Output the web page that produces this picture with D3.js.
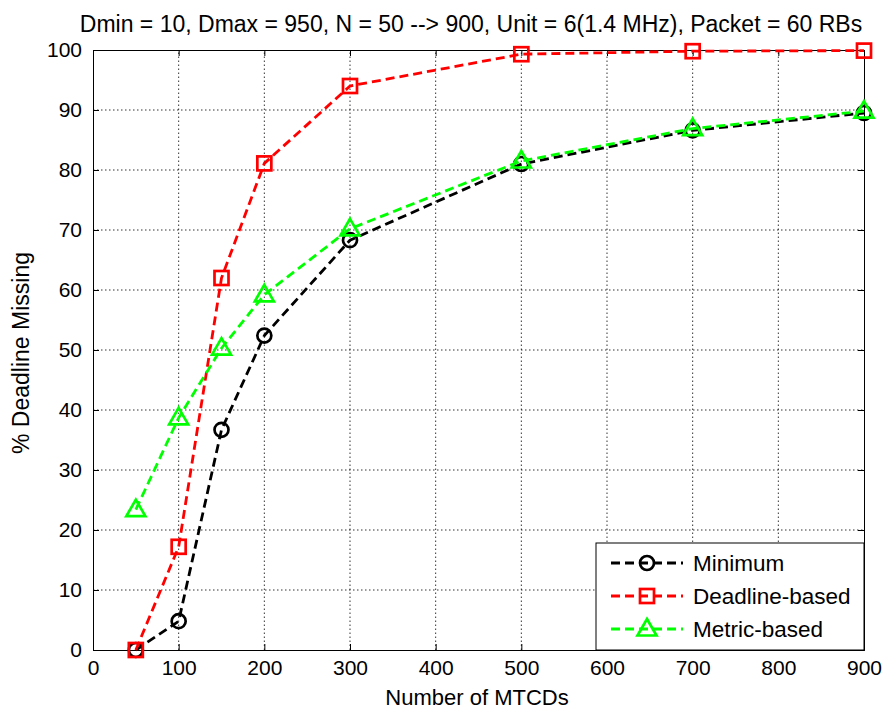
<!DOCTYPE html>
<html><head><meta charset="utf-8">
<script src="https://cdn.jsdelivr.net/npm/d3@7"></script>
<style>body{margin:0;background:#fff}svg{display:block}text{font-family:"Liberation Sans",Arial,sans-serif}</style>
</head><body>
<script>
const xValues = [50, 100, 150, 200, 300, 500, 700, 900];
const minimum = [0, 4.8, 36.7, 52.4, 68.3, 81.0, 86.6, 89.5];
const deadlineBased = [0, 17.2, 62.0, 81.1, 94.0, 99.3, 99.8, 99.9];
const metricBased = [23.4, 38.7, 50.3, 59.2, 70.2, 81.5, 86.9, 89.8];
const xTicks = [0,100,200,300,400,500,600,700,800,900];
const yTicks = [0,10,20,30,40,50,60,70,80,90,100];
const title = "Dmin = 10, Dmax = 950, N = 50 --> 900, Unit = 6(1.4 MHz), Packet = 60 RBs";
const seriesNames = ["Minimum", "Deadline-based", "Metric-based"];
const seriesColors = ["#000000", "#ff0000", "#00ff00"];
const seriesMarkers = ["circle", "square", "triangle"];

const W = 889, H = 711;
const m = {l: 93, r: 889-864, t: 50, b: 711-650};
const svg = d3.select("body").append("svg").attr("width", W).attr("height", H);
const x = d3.scaleLinear().domain([0,900]).range([m.l, W-m.r]);
const y = d3.scaleLinear().domain([0,100]).range([H-m.b, m.t]);

// grid
const g = svg.append("g");
g.selectAll(".gx").data(xTicks.slice(1,-1)).enter().append("line")
  .attr("x1", d=>x(d)).attr("x2", d=>x(d)).attr("y1", y(0)).attr("y2", y(100))
  .attr("stroke","#000").attr("stroke-width",0.8).attr("stroke-dasharray","1.5,2.5");
g.selectAll(".gy").data(yTicks.slice(1,-1)).enter().append("line")
  .attr("y1", d=>y(d)).attr("y2", d=>y(d)).attr("x1", x(0)).attr("x2", x(900))
  .attr("stroke","#000").attr("stroke-width",0.8).attr("stroke-dasharray","1.5,2.5");

// axes
const xAxis = d3.axisBottom(x).tickValues(xTicks).tickSize(-6).tickPadding(10);
const yAxis = d3.axisLeft(y).tickValues(yTicks).tickSize(-6).tickPadding(11);
const gx = svg.append("g").attr("transform",`translate(0,${y(0)})`).call(xAxis);
const gy = svg.append("g").attr("transform",`translate(${x(0)},0)`).call(yAxis);
const gx2 = svg.append("g").attr("transform",`translate(0,${y(100)})`).call(d3.axisTop(x).tickValues(xTicks).tickSize(-6).tickFormat(""));
const gy2 = svg.append("g").attr("transform",`translate(${x(900)},0)`).call(d3.axisRight(y).tickValues(yTicks).tickSize(-6).tickFormat(""));
[gx,gy,gx2,gy2].forEach(a=>{a.select(".domain").attr("stroke","#000").attr("stroke-width",1);
  a.selectAll(".tick line").attr("stroke","#000");
  a.selectAll("text").attr("font-size",21).attr("fill","#000").attr("font-family","Liberation Sans, Arial, sans-serif");});

// series
const data = [minimum, deadlineBased, metricBased];
const line = d3.line().x((d,i)=>x(xValues[i])).y(d=>y(d));
function marker(sel, type, color){
  if(type==="circle") sel.append("circle").attr("r",7).attr("fill","none").attr("stroke",color).attr("stroke-width",2.7);
  else if(type==="square") sel.append("rect").attr("x",-7).attr("y",-7).attr("width",14).attr("height",14).attr("fill","none").attr("stroke",color).attr("stroke-width",2.7);
  else sel.append("path").attr("d","M0,-10L9.5,6.5L-9.5,6.5Z").attr("fill","none").attr("stroke",color).attr("stroke-width",2.7);
}
data.forEach((vals, k)=>{
  svg.append("path").datum(vals).attr("d", line).attr("fill","none")
    .attr("stroke", seriesColors[k]).attr("stroke-width",2.8).attr("stroke-dasharray","9,5");
  vals.forEach((v,i)=>{
    const mg = svg.append("g").attr("transform",`translate(${x(xValues[i])},${y(v)})`);
    marker(mg, seriesMarkers[k], seriesColors[k]);
  });
});

// legend
const lg = svg.append("g");
lg.append("rect").attr("x",596).attr("y",543).attr("width",268).attr("height",107)
  .attr("fill","#fff").attr("stroke","#000").attr("stroke-width",1);
seriesNames.forEach((n,k)=>{
  const yy = 563 + k*33;
  lg.append("line").attr("x1",611).attr("x2",683).attr("y1",yy).attr("y2",yy)
    .attr("stroke",seriesColors[k]).attr("stroke-width",2.8).attr("stroke-dasharray","9,5");
  const mg = lg.append("g").attr("transform",`translate(647,${yy})`);
  marker(mg, seriesMarkers[k], seriesColors[k]);
  lg.append("text").attr("x",693).attr("y",yy+8).attr("font-size",22.5).text(n);
});

// labels
svg.append("text").attr("x",471).attr("y",32).attr("text-anchor","middle").attr("font-size",23).text(title);
svg.append("text").attr("x",477).attr("y",705).attr("text-anchor","middle").attr("font-size",22).text("Number of MTCDs");
svg.append("text").attr("transform",`translate(29,353) rotate(-90)`).attr("text-anchor","middle").attr("font-size",23).text("% Deadline Missing");
</script>
</body></html>
